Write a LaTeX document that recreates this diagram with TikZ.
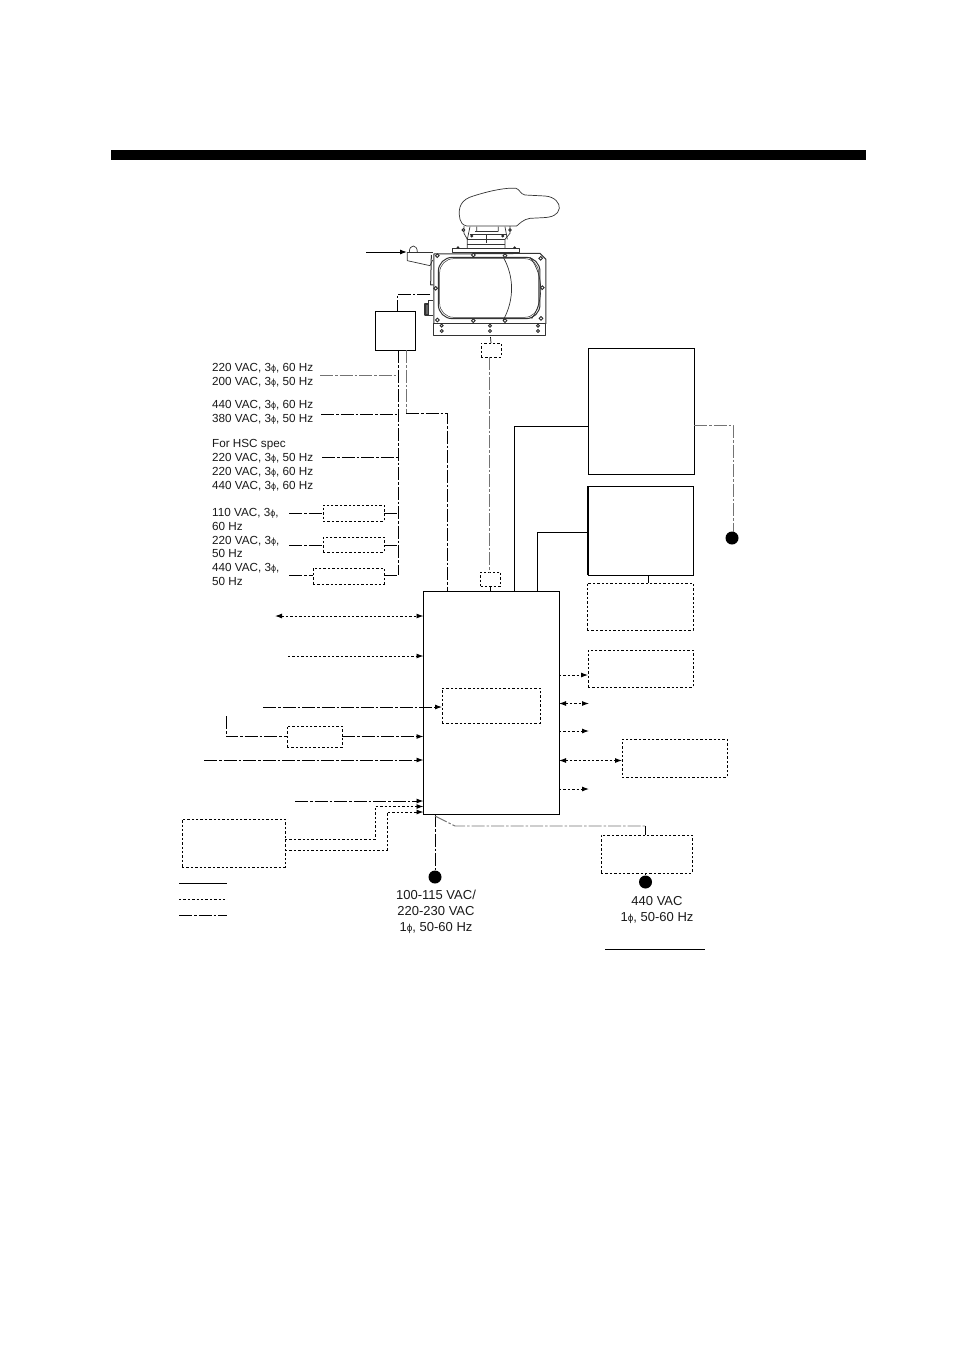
\documentclass[tikz,border=0pt]{standalone}
\usepackage{fontspec}
\setmainfont{Liberation Sans}
\usetikzlibrary{arrows.meta,calc}
\newcommand{\ph}{{\fontsize{9}{9}\selectfont ϕ}}
\newcommand{\phb}{{\fontsize{10}{10}\selectfont ϕ}}
\tikzset{
 x=1pt,y=-1pt,
 solidln/.style={draw=black,line width=1pt},
 dotln/.style={draw=black,line width=0.95pt,dash pattern=on 2.4pt off 2pt},
 dashdot/.style={draw=black,line width=0.95pt,dash pattern=on 13pt off 2pt on 2.5pt off 2pt},
 graydash/.style={draw=black!55,line width=0.95pt,dash pattern=on 13pt off 2pt on 2.5pt off 2pt},
 solidbox/.style={draw=black,line width=1pt,inner sep=0pt,outer sep=0pt},
 dotbox/.style={draw=black,line width=0.95pt,dash pattern=on 2.4pt off 2pt,inner sep=0pt,outer sep=0pt},
 tip/.style={-{Latex[length=7pt,width=5pt]}},
 tips/.style={{Latex[length=7pt,width=5pt]}-{Latex[length=7pt,width=5pt]}},
 lbl/.style={font=\fontsize{11.7}{13.8}\selectfont,align=left,anchor=west,inner sep=0pt,text=black!90},
 lblc/.style={font=\fontsize{13}{16}\selectfont,align=center,inner sep=0pt,text=black!90},
 dot/.style={circle,fill=black,inner sep=0pt,minimum size=13pt},
 art/.style={draw=black!80,line width=0.7pt,line join=round},
 bolt/.style={draw=black!85,line width=0.9pt,fill=white},
}
\newcommand{\bx}[6]{\node[#1,minimum width={#5-#3},minimum height={#6-#4}] (#2) at ({(#3+#5)/2},{(#4+#6)/2}) {};}
\begin{document}
\begin{tikzpicture}
\useasboundingbox (0,0) rectangle (954,1350);
\fill[black] (111,150) rectangle (866,160);

% radar drawing, coordinates in zoom units
\begin{scope}[xshift=360pt,yshift=-180pt,x=0.3333pt,y=-0.3333pt]
 \draw[art] (300,118) .. controls (292,80) and (305,58) .. (340,48) .. controls (390,32) and (440,22) .. (468,25) .. controls (480,28) and (480,42) .. (495,45) -- (555,48) .. controls (585,50) and (600,70) .. (598,85) .. controls (595,105) and (575,112) .. (550,113) -- (510,115) .. controls (490,118) and (480,130) .. (470,138) -- (320,138) .. controls (308,135) and (302,128) .. (300,118);
 % pedestal
 \draw[art] (312,138) -- (312,160) -- (322,178) -- (322,205) (450,138) -- (450,160) -- (435,178) -- (435,205);
 \draw[art] (322,178) -- (435,178) (330,162) -- (440,162) (345,155) -- (415,155);
 \draw[art] (322,192) -- (435,192);
 \draw[art] (350,140) -- (350,155) (415,140) -- (415,155) (330,140) -- (322,178) (435,140) -- (442,178);
 \draw[art] (378,165) -- (378,188);
 \draw[bolt] (310,150) circle (4) (450,150) circle (4) (335,168) circle (3) (428,168) circle (3);
 \draw[art,line width=1pt] (278,207) rectangle (478,217);
 \draw[bolt] (294,203) circle (2.5) (464,203) circle (2.5);
 % body
 \draw[art,line width=1pt] (222,432) -- (222,222) -- (540,220) -- (558,238) -- (558,432);
 \draw[art,line width=1pt] (222,432) rectangle (558,468);
 \draw[art,line width=1pt,rounded corners=14] (235,232) rectangle (540,416);
 \draw[art,line width=0.5pt,rounded corners=14] (239,236) rectangle (536,412);
 \draw[art] (430,232) .. controls (463,290) and (463,360) .. (430,420);
 \draw[art] (510,232) .. controls (552,285) and (552,365) .. (515,416);
 \foreach \p in {(232,227),(340,225),(435,227),(542,235),(547,323),(543,415),(435,422),(340,422),(232,420),(227,325)} \draw[bolt] \p circle (5.5);
 \foreach \p in {(245,437),(245,453),(390,437),(390,453),(534,437),(534,453)} \draw[bolt] \p circle (4.5);
 % cable gland
 \draw[art] (148,216) .. controls (148,192) and (172,192) .. (172,216);
 \draw[art] (142,218) -- (218,218);
 \draw[art] (142,218) -- (142,242) -- (210,257) -- (218,240);
 \draw[art,line width=1pt] (214,225) -- (212,315) -- (220,315);
 \draw[art,line width=1.4pt,fill=black!60] (195,372) rectangle (205,405);
 \draw[art] (205,372) -- (205,360) -- (218,360) (205,405) -- (218,405);
\end{scope}

% boxes
\bx{solidbox}{junction}{375}{311}{415}{350}
\bx{solidbox}{main}{423.5}{591}{559}{814}
\bx{dotbox}{inner}{442}{688}{540}{723}
\bx{dotbox}{filtA}{481}{343}{501}{357}
\bx{dotbox}{filtB}{480.5}{572}{500.5}{586}
\bx{solidbox}{upper}{588}{348}{694}{474}
\bx{solidbox}{lower}{588}{486}{693}{575}
\draw[black,line width=1.4pt] (lower.south west) -- (lower.north west);
\bx{dotbox}{opt}{587}{583}{693}{630}
\bx{dotbox}{r1}{588}{650}{693}{687}
\bx{dotbox}{r2}{622}{739}{727}{777}
\bx{dotbox}{trans}{601}{835}{692}{873}
\bx{dotbox}{t1}{323}{505}{384}{521}
\bx{dotbox}{t2}{323}{537}{384}{552}
\bx{dotbox}{t3}{313}{568}{384}{584}
\bx{dotbox}{conv}{287}{726}{342}{747}
\bx{dotbox}{ext}{182}{819}{285}{867}
\node[dot] (pwrA) at (732,538) {};
\node[dot] (pwrB) at (435,877) {};
\node[dot] (pwrC) at (645.5,882) {};

% labels
\node[lbl] (l1) at (212,375.5) {220 VAC, 3\ph, 60 Hz\\200 VAC, 3\ph, 50 Hz};
\node[lbl] (l2) at (212,412.5) {440 VAC, 3\ph, 60 Hz\\380 VAC, 3\ph, 50 Hz};
\node[lbl] (l3) at (212,465.5) {For HSC spec\\220 VAC, 3\ph, 50 Hz\\220 VAC, 3\ph, 60 Hz\\440 VAC, 3\ph, 60 Hz};
\node[lbl] (l4) at (212,519.5) {110 VAC, 3\ph,\\60 Hz};
\node[lbl] (l5) at (212,547) {220 VAC, 3\ph,\\50 Hz};
\node[lbl] (l6) at (212,574.5) {440 VAC, 3\ph,\\50 Hz};
\node[lblc] (l7) at (436,911.5) {100-115 VAC/\\220-230 VAC\\1\phb, 50-60 Hz};
\node[lblc] (l8) at (657,909.5) {440 VAC\\1\phb, 50-60 Hz};

% free ends
\coordinate (a0) at (366,252); \coordinate (a1) at (407,252);
\coordinate (g1) at (430,294); \coordinate (g2) at (397,294);
\coordinate (s1) at (320,375); \coordinate (s2) at (321,414); \coordinate (s3) at (322,457.5);
\coordinate (v) at (398,575);
\coordinate (b1) at (289,513); \coordinate (b2) at (289,545); \coordinate (b3) at (289,575);
\coordinate (w1) at (275,616); \coordinate (w2) at (288,656); \coordinate (w3) at (263,707);
\coordinate (w4) at (226,716); \coordinate (w5) at (204,760); \coordinate (w6) at (295,801);
\coordinate (rr1) at (589,703.5); \coordinate (rr2) at (589,731); \coordinate (rr3) at (589,789);
\coordinate (leg1) at (179,883); \coordinate (leg1b) at (227,883);
\coordinate (leg2) at (179,899.5); \coordinate (leg2b) at (227,899.5);
\coordinate (leg3) at (179,915); \coordinate (leg3b) at (227,915);
\coordinate (rule1) at (605,949); \coordinate (rule2) at (705,949);

% connectors
\draw[solidln,tip] (a0) -- (a1);
\draw[dashdot] (g1) -- (g2) -- (g2 |- junction.north);
\draw[dashdot] (junction.south -| v) -- (v);
\draw[graydash] (s1) -- (s1 -| v);
\draw[dashdot] (s2) -- (s2 -| v);
\draw[dashdot] (s3) -- (s3 -| v);
\draw[graydash] (406,350) -- (406,413);
\draw[dashdot] (406,413) -- (447,413) -- (447,591);
\draw[dashdot] (b1) -- (t1.west |- b1);
\draw[dashdot] (t1.east |- b1) -- (b1 -| v);
\draw[dashdot] (b2) -- (t2.west |- b2);
\draw[dashdot] (t2.east |- b2) -- (b2 -| v);
\draw[dashdot] (b3) -- (t3.west |- b3);
\draw[dashdot] (t3.east |- b3) -- (v);
\draw[solidln,line width=0.7pt] (490.5,337) -- (filtA.north);
\draw[graydash] (489.5,357) -- (489.5,572);
\draw[solidln,line width=0.8pt] (filtB.south) -- (filtB.south |- main.north);
\draw[solidln] (514,591) -- (514,426) -- (upper.west |- 0,426);
\draw[solidln] (537,591) -- (537,532) -- (lower.west |- 0,532);
\draw[solidln,line width=0.7pt] (648,575) -- (648,583);
\draw[graydash] (694,425) -- (733,425) -- (733,532);
\draw[dotln,tips] (w1) -- (main.west |- w1);
\draw[dotln,tip] (w2) -- (main.west |- w2);
\draw[dashdot,tip] (w3) -- (inner.west |- w3);
\draw[dashdot] (w4) -- (w4 |- conv.west) -- (conv.west);
\draw[dashdot,tip] (conv.east) -- (main.west |- conv.east);
\draw[dashdot,tip] (w5) -- (main.west |- w5);
\draw[dashdot,tip] (w6) -- (main.west |- w6);
\draw[dotln,tip] (ext.east |- 0,839) -- (375,839) -- (375,806.5) -- (main.west |- 0,806.5);
\draw[dotln,tip] (ext.east |- 0,850) -- (387,850) -- (387,812) -- (main.west |- 0,812);
\draw[dotln,tip] (main.east |- 0,675) -- (r1.west |- 0,675);
\draw[dotln,tips] (main.east |- rr1) -- (rr1);
\draw[dotln,tip] (main.east |- rr2) -- (rr2);
\draw[dotln,tips] (main.east |- 0,760.5) -- (r2.west |- 0,760.5);
\draw[dotln,tip] (main.east |- rr3) -- (rr3);
\draw[dashdot,line width=0.7pt] (pwrB.north |- main.south) -- (pwrB.north);
\draw[graydash] (435,816) -- (455,826) -- (645.5,826);
\draw[dashdot,line width=0.8pt] (645.5,826) -- (645.5,835);
\draw[solidln,line width=0.8pt] (trans.south -| pwrC) -- (pwrC.north);
\draw[solidln] (leg1) -- (leg1b);
\draw[dotln] (leg2) -- (leg2b);
\draw[dashdot] (leg3) -- (leg3b);
\draw[solidln] (rule1) -- (rule2);
\end{tikzpicture}
\end{document}
